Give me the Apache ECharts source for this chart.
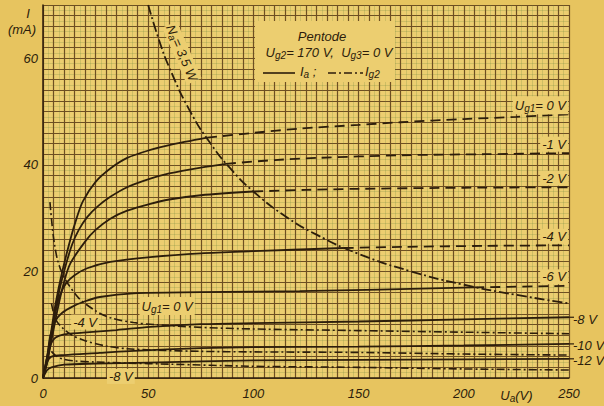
<!DOCTYPE html>
<html><head><meta charset="utf-8">
<script src="https://cdn.jsdelivr.net/npm/echarts@6/dist/echarts.min.js"></script>
<style>html,body{margin:0;padding:0;background:#e7c45f}#c{width:604px;height:406px}</style>
</head><body><div id="c"></div>
<script>
// ---- data (Ua in V, I in mA) ----
const xTickLabels = [0, 50, 100, 150, 200, 250];
const yTickLabels = [0, 20, 40, 60];

const ia_0  = [[0,0],[2,4],[4,9],[6,14],[9,19.7],[13,26],[16,30],[19,33.2],[25,36.8],[32,39.3],[40,41.3],[51,42.8],[60,43.7],[78,45.1],[100,46],[122,46.8],[150,47.5],[170,48],[200,48.6],[225,49],[250,49.5]];
const ia_m1 = [[0,0],[2,3.5],[4,8],[7,15],[10,20],[13.8,25],[17,27.8],[21,30.2],[26,32.2],[32,34],[40,35.8],[51,37.4],[60,38.4],[75,39.5],[87,40.2],[110,40.9],[130,41.3],[170,41.8],[210,42],[250,42.2]];
const ia_m2 = [[0,0],[2,3],[4,7],[7,13],[10,18],[13,21.5],[20,25.6],[25,27.8],[32,29.9],[40,31.4],[51,32.7],[60,33.5],[75,34.3],[100,35],[125,35.3],[150,35.5],[200,35.7],[250,35.8]];
const ia_m4 = [[0,0],[2,3],[4,8],[6,12.5],[8,15.5],[11,17.8],[15,19.3],[21,20.6],[32,21.8],[51,22.7],[75,23.4],[100,23.8],[143,24.4],[170,24.6],[210,24.8],[250,24.9]];
const ia_m6 = [[0,0],[2,4],[3.5,8],[6,10.8],[9,12.2],[14,13.4],[20,14.4],[27,15.2],[43,15.9],[75,16.1],[122,16.3],[160,16.6],[205,17],[250,17.3]];
const ia_m8 = [[0,0],[2,4],[4,6.6],[6,7.6],[10,8.2],[19,8.5],[35,9],[51,9.6],[75,10.1],[100,10.3],[150,10.6],[200,11],[250,11.4]];
const ia_m10 = [[0,0],[2,3],[4,4],[10,4.3],[27,4.7],[43,5.1],[75,5.6],[100,5.8],[150,5.9],[200,6.1],[250,6.4]];
const ia_m12 = [[0,0],[2,1.5],[4,2],[10,2.5],[25,2.7],[50,2.9],[100,3.3],[150,3.4],[200,3.5],[250,3.6]];

// Ua at which each Ia curve crosses the 3.5 W limit (solid before, dashed after)
const limitUa = {ia_0: 78, ia_m1: 87, ia_m2: 100, ia_m4: 143, ia_m6: 205};

const ig2_0  = [[3.3,33],[4.5,28],[5.5,25],[7,22],[9.5,19.3],[12,17.6],[17,15],[25,12.6],[32,11.3],[43,10.4],[54,10],[75,9.5],[100,9.2],[150,8.9],[200,8.6],[250,8.3]];
const ig2_m4 = [[4,14],[6,11],[9,9.5],[14,8],[20,7],[30,6],[40,5.5],[55,5.2],[75,5],[100,4.9],[150,4.8],[200,4.5],[250,4.3]];
const ig2_m8 = [[4,5],[6,4.2],[9,3.6],[15,3.2],[25,3],[40,2.8],[60,2.6],[100,2.2],[150,2],[200,1.7],[250,1.5]];

const powerLimit = [[50,70],[55,63.6],[60,58.3],[70,50],[80,43.8],[90,38.9],[100,35],[115,30.4],[130,26.9],[150,23.3],[175,20],[200,17.5],[225,15.6],[250,14]];

// ---- styling ----
const INK = '#2c1d0b';
const PLOT_BG = '#ecce70';
const FONT = 'Liberation Sans';
const rich = {
  t: {fontFamily: FONT, fontStyle: 'italic', fontSize: 13, color: INK},
  s: {fontFamily: FONT, fontStyle: 'italic', fontSize: 10, color: INK, verticalAlign: 'bottom', padding: [6,0,0,0]}
};

const chart = echarts.init(document.getElementById('c'), null, {renderer: 'svg'});

const series = [];
const base = {type: 'line', showSymbol: false, symbol: 'none', smooth: 0.3, silent: true, z: 5};
function addIa(name, data) {
  const lim = limitUa[name];
  if (lim === undefined) {
    series.push(Object.assign({}, base, {data: data, lineStyle: {color: INK, width: 1.8}}));
  } else {
    series.push(Object.assign({}, base, {data: data.filter(p => p[0] <= lim), lineStyle: {color: INK, width: 1.8}}));
    series.push(Object.assign({}, base, {data: data.filter(p => p[0] >= lim), lineStyle: {color: INK, width: 1.8, type: [10, 6]}}));
  }
}
addIa('ia_0', ia_0); addIa('ia_m1', ia_m1); addIa('ia_m2', ia_m2); addIa('ia_m4', ia_m4);
addIa('ia_m6', ia_m6); addIa('ia_m8', ia_m8); addIa('ia_m10', ia_m10); addIa('ia_m12', ia_m12);
[ig2_0, ig2_m4, ig2_m8].forEach(d => series.push(Object.assign({}, base, {data: d,
  lineStyle: {color: INK, width: 1.6, type: [8, 3, 2, 3]}})));
series.push(Object.assign({}, base, {data: powerLimit, smooth: 0.5,
  lineStyle: {color: INK, width: 1.8, type: [10, 3, 2, 3]}}));

chart.setOption({
  backgroundColor: '#e7c45f',
  animation: false,
  grid: {left: 43, right: 35, top: 5, bottom: 28, show: true, backgroundColor: PLOT_BG, borderWidth: 0},
  xAxis: {
    type: 'value', min: 0, max: 250, interval: 5,
    axisLine: {show: true, onZero: false, lineStyle: {color: INK, width: 1.5}},
    axisTick: {show: false},
    splitLine: {show: true, lineStyle: {color: '#6e4f22', width: 1.2}},
    minorTick: {show: false, splitNumber: 2},
    minorSplitLine: {show: true, lineStyle: {color: 'rgba(100,130,60,0.22)', width: 1}},
    axisLabel: {
      margin: 9, interval: 0,
      formatter: v => (xTickLabels.indexOf(v) >= 0 ? '{t|' + v + '}' : (v === 225 ? '{t|U}{s|a}{t|(V)}' : '')),
      rich: rich
    }
  },
  yAxis: {
    type: 'value', min: 0, max: 70, interval: 2,
    axisLine: {show: true, onZero: false, lineStyle: {color: INK, width: 1.5}},
    axisTick: {show: false},
    splitLine: {show: true, lineStyle: {color: '#6e4f22', width: 1.2}},
    minorTick: {show: false, splitNumber: 2},
    minorSplitLine: {show: true, lineStyle: {color: 'rgba(100,130,60,0.22)', width: 1}},
    axisLabel: {
      margin: 5,
      formatter: v => (yTickLabels.indexOf(v) >= 0 ? '{t|' + v + '}' : ''),
      rich: rich
    }
  },
  series: series
});

// ---- annotations positioned through the chart's own scales ----
function px(x, y) { return chart.convertToPixel({gridIndex: 0}, [x, y]); }
const tstyle = (text, extra) => Object.assign({text: text, rich: rich, fill: INK, font: 'italic 13px ' + FONT}, extra || {});
const g = [];
function label(text, x, y, align, bg) {
  g.push({type: 'text', x: x, y: y, z: 20, style: tstyle(text, {align: align, verticalAlign: 'middle',
    backgroundColor: bg ? PLOT_BG : undefined, padding: bg ? [1, 2, 1, 2] : 0})});
}
const endIa = [[ia_0, '{t|U}{s|g1}{t|= 0 V}'], [ia_m1, '{t|-1 V}'], [ia_m2, '{t|-2 V}'], [ia_m4, '{t|-4 V}'], [ia_m6, '{t|-6 V}']];
endIa.forEach(([d, t]) => { const e = d[d.length - 1]; const p = px(e[0], e[1]); label(t, p[0] - 1, p[1] - 9, 'right', true); });
const endOut = [[ia_m8, '{t|-8 V}'], [ia_m10, '{t|-10 V}'], [ia_m12, '{t|-12 V}']];
endOut.forEach(([d, t]) => { const e = d[d.length - 1]; const p = px(e[0], e[1]);
  g.push({type: 'line', z: 20, shape: {x1: p[0], y1: p[1], x2: p[0] + 5, y2: p[1]}, style: {stroke: INK, lineWidth: 1.2}});
  label(t, p[0] + 4, p[1] + 2, 'left', false); });

// Ig2 curve labels
(function(){
  let p = px(59, 13.5); label('{t|U}{s|g1}{t|= 0 V}', p[0], p[1], 'center', true);
  p = px(20, 10.5); label('{t|-4 V}', p[0], p[1], 'center', true);
  p = px(37, 0.3); label('{t|-8 V}', p[0], p[1], 'center', true);
})();

// power hyperbola label (beside the curve)
(function(){
  const p = px(66, 61);
  g.push({type: 'text', x: p[0], y: p[1], rotation: -1.16, z: 20,
    style: tstyle('{t|N}{s|a}{t|= 3,5 W}', {align: 'center', verticalAlign: 'middle', backgroundColor: PLOT_BG, padding: [0, 1, 0, 1]})});
})();

// legend box
g.push({type: 'rect', z: 15, shape: {x: 255, y: 21, width: 140, height: 61}, style: {fill: PLOT_BG}});
g.push({type: 'text', x: 322, y: 36, z: 20, style: tstyle('{t|Pentode}', {align: 'center', verticalAlign: 'middle'})});
g.push({type: 'text', x: 329, y: 52, z: 20, style: tstyle('{t|U}{s|g2}{t|= 170 V,  U}{s|g3}{t|= 0 V}', {align: 'center', verticalAlign: 'middle'})});
g.push({type: 'line', z: 20, shape: {x1: 263, y1: 73, x2: 295, y2: 73}, style: {stroke: INK, lineWidth: 1.6}});
g.push({type: 'text', x: 300, y: 71, z: 20, style: tstyle('{t|I}{s|a}{t| ;}', {align: 'left', verticalAlign: 'middle'})});
g.push({type: 'line', z: 20, shape: {x1: 328, y1: 73, x2: 363, y2: 73}, style: {stroke: INK, lineWidth: 1.6, lineDash: [8, 3, 2, 3]}});
g.push({type: 'text', x: 365, y: 71, z: 20, style: tstyle('{t|I}{s|g2}', {align: 'left', verticalAlign: 'middle'})});

// y axis title
g.push({type: 'text', x: 28, y: 13, z: 20, style: tstyle('{t|I}', {align: 'center', verticalAlign: 'middle'})});
g.push({type: 'text', x: 22, y: 29, z: 20, style: tstyle('{t|(mA)}', {align: 'center', verticalAlign: 'middle'})});

chart.setOption({graphic: g});
</script>
</body></html>
